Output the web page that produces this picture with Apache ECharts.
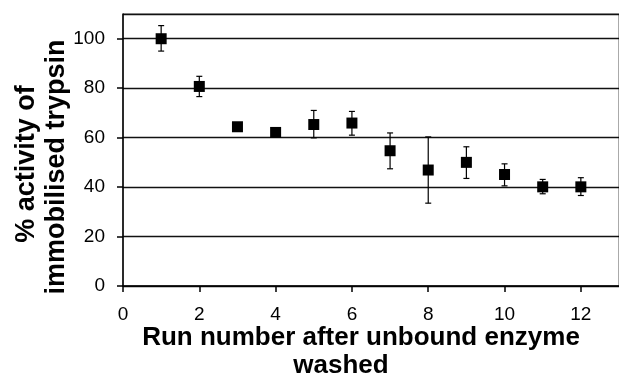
<!DOCTYPE html>
<html>
<head>
<meta charset="utf-8">
<script src="https://cdn.jsdelivr.net/npm/echarts@6/dist/echarts.min.js"></script>
<style>
  html, body { margin: 0; padding: 0; background: #fff; }
  #chart { width: 619px; height: 379px; }
</style>
</head>
<body>
<div id="chart"></div>
<script>
// run number after the unbound enzyme was washed off
const runs = [1, 2, 3, 4, 5, 6, 7, 8, 9, 10, 11, 12]
// % activity and the ends of the error bars
const activity = [100, 80.7, 64.4, 62.1, 65.3, 65.9, 54.7, 46.9, 50.0, 45.1, 40.1, 40.1]
const errUpper = [105.3, 84.8, 65.4, 63.0, 71.0, 70.6, 61.9, 60.3, 56.3, 49.4, 43.1, 43.8]
const errLower = [95.0, 76.6, 63.4, 61.2, 59.9, 61.0, 47.4, 33.5, 43.5, 40.5, 37.3, 36.6]

const font = '"Liberation Sans", Arial, sans-serif'

const points = runs.map((r, i) => [r, activity[i]])
const bars = runs.map((r, i) => [r, errLower[i], errUpper[i]])

const chart = echarts.init(document.getElementById('chart'))

chart.setOption({
  animation: false,
  grid: {
    left: 123, right: 0, top: 14, bottom: 93,
    show: true, borderColor: '#555', borderWidth: 1
  },
  xAxis: {
    type: 'value',
    min: 0, max: 13, interval: 2,
    axisLine: { lineStyle: { color: '#000', width: 1.5 } },
    axisTick: { show: true, length: 6, lineStyle: { color: '#000', width: 1.5 } },
    axisLabel: { color: '#000', fontSize: 19, fontFamily: font, margin: 19, showMaxLabel: false },
    splitLine: { show: false }
  },
  yAxis: {
    type: 'value',
    min: 0, max: 110, interval: 20,
    axisLine: { show: true, lineStyle: { color: '#000', width: 1.5 } },
    axisTick: { show: true, length: 6, lineStyle: { color: '#000', width: 1.5 } },
    axisLabel: { color: '#000', fontSize: 19, fontFamily: font, margin: 18, showMaxLabel: false },
    splitLine: { lineStyle: { color: '#111', width: 1.4 } }
  },
  graphic: [
    {
      type: 'text', x: 27, y: 164, rotation: Math.PI / 2,
      style: { text: '% activity of', font: 'bold 27px ' + font, fill: '#000', align: 'center', verticalAlign: 'middle' }
    },
    {
      type: 'text', x: 57, y: 167, rotation: Math.PI / 2,
      style: { text: 'immobilised trypsin', font: 'bold 27px ' + font, fill: '#000', align: 'center', verticalAlign: 'middle' }
    },
    {
      type: 'text', x: 361, y: 338,
      style: { text: 'Run number after unbound enzyme', font: 'bold 26px ' + font, fill: '#000', align: 'center', verticalAlign: 'middle' }
    },
    {
      type: 'text', x: 341, y: 366,
      style: { text: 'washed', font: 'bold 26px ' + font, fill: '#000', align: 'center', verticalAlign: 'middle' }
    }
  ],
  series: [
    {
      type: 'custom',
      data: bars,
      z: 2,
      renderItem: (params, api) => {
        const x = api.value(0)
        const lo = api.coord([x, api.value(1)])
        const hi = api.coord([x, api.value(2)])
        const cap = 3
        const style = { stroke: '#000', lineWidth: 1.2 }
        return {
          type: 'group',
          children: [
            { type: 'line', shape: { x1: lo[0], y1: lo[1], x2: hi[0], y2: hi[1] }, style },
            { type: 'line', shape: { x1: lo[0] - cap, y1: lo[1], x2: lo[0] + cap, y2: lo[1] }, style },
            { type: 'line', shape: { x1: hi[0] - cap, y1: hi[1], x2: hi[0] + cap, y2: hi[1] }, style }
          ]
        }
      }
    },
    {
      type: 'scatter',
      data: points,
      z: 3,
      symbol: 'rect',
      symbolSize: 11,
      itemStyle: { color: '#000', opacity: 1 }
    }
  ]
})
</script>
</body>
</html>
